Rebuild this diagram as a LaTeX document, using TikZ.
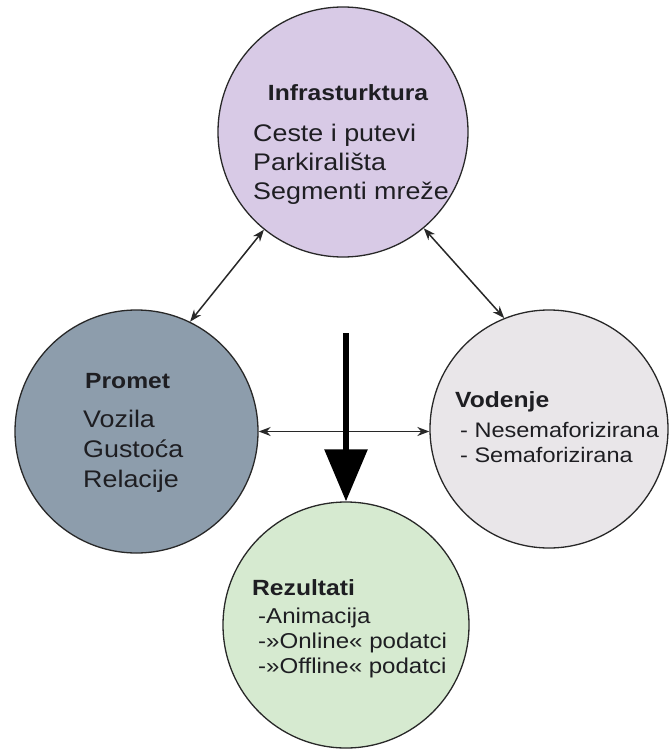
\documentclass[tikz,border=0pt]{standalone}
\usepackage{fontspec}
\setmainfont[FakeStretch=1.12]{Liberation Sans}
\usetikzlibrary{arrows.meta}

\definecolor{infraboja}{RGB}{216,202,230}
\definecolor{prometboja}{RGB}{141,157,172}
\definecolor{vodenjeboja}{RGB}{233,230,233}
\definecolor{rezultatboja}{RGB}{214,234,208}
\definecolor{rub}{RGB}{40,40,40}
\definecolor{slova}{RGB}{30,30,34}

\tikzset{
	krug/.style = {circle, draw = rub, line width = 1.3pt, inner sep = 0pt},
	naslov/.style = {anchor = base west, inner sep = 0pt, text = slova, font = \fontsize{22}{26}\selectfont\bfseries},
	popis/.style = {anchor = base west, inner sep = 0pt, align = left, text = slova},
	veza/.style = {{Stealth[length=12pt,width=9pt]}-{Stealth[length=12pt,width=9pt]}, line width = 1.5pt, draw = rub},
	tok/.style = {-{Triangle[length=52pt,width=42pt]}, line width = 6pt}
}

\begin{document}
\begin{tikzpicture}[x = 1pt, y = -1pt]
	\useasboundingbox (0,0) rectangle (670,749);

	\node [krug, fill = infraboja, minimum size = 250pt] (infra) at (343,132) {};
	\node [krug, fill = prometboja, minimum size = 243pt] (promet) at (136.5,431.5) {};
	\node [krug, fill = vodenjeboja, minimum size = 238pt] (vodenje) at (549,429) {};
	\node [krug, fill = rezultatboja, minimum size = 246pt] (rezultati) at (346,625) {};

	% base of a list is the baseline of its last line
	\node [naslov, anchor = base] (infra-naslov) at (348,101) {Infrasturktura};
	\node [popis, font = \fontsize{24}{29}\selectfont] (infra-popis) at (253,199) {Ceste i putevi\\Parkirališta\\Segmenti mreže};

	\node [naslov] (promet-naslov) at (85,388) {Promet};
	\node [popis, font = \fontsize{24}{30}\selectfont] (promet-popis) at (83,487) {Vozila\\Gustoća\\Relacije};

	\node [naslov] (vodenje-naslov) at (455,407) {Vodenje};
	\node [popis, font = \fontsize{21}{25}\selectfont] (vodenje-popis) at (460,462) {- Nesemaforizirana\\- Semaforizirana};

	\node [naslov] (rezultati-naslov) at (252,595) {Rezultati};
	\node [popis, font = \fontsize{21.5}{25}\selectfont] (rezultati-popis) at (258,673) {-Animacija\\-»Online« podatci\\-»Offline« podatci};

	\draw [veza] (infra.231.6) -- (promet.64.4);
	\draw [veza] (infra.310.7) -- (vodenje.112.8);
	\draw [veza] (promet.east) -- (promet.east -| vodenje.west);

	\coordinate (vrh) at (346,333);
	\draw [tok] (vrh) -- (rezultati.north);
\end{tikzpicture}
\end{document}
